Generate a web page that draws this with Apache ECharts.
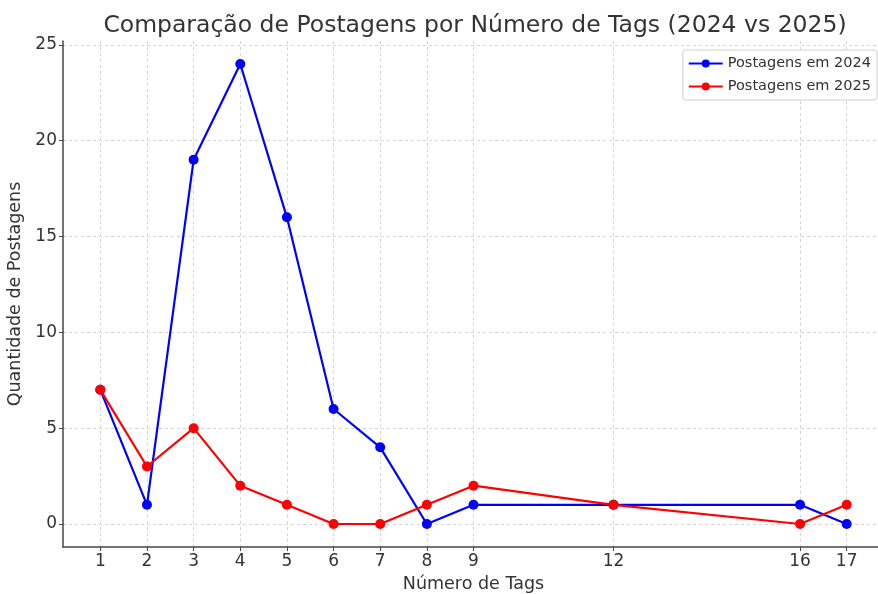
<!DOCTYPE html>
<html>
<head>
<meta charset="utf-8">
<script src="https://cdn.jsdelivr.net/npm/echarts@6/dist/echarts.min.js"></script>
<style>
  html, body { margin: 0; padding: 0; background: #fff; }
  #chart { width: 878px; height: 594px; }
</style>
</head>
<body>
<div id="chart"></div>
<script>
// --- Data ---
const tagCounts = [1, 2, 3, 4, 5, 6, 7, 8, 9, 12, 16, 17];
const posts2024 = [7, 1, 19, 24, 16, 6, 4, 0, 1, 1, 1, 0];
const posts2025 = [7, 3, 5, 2, 1, 0, 0, 1, 2, 1, 0, 1];
const yTicks = [0, 5, 10, 15, 20, 25];

const FONT = 'DejaVu Sans';
const axisColor = '#444';

const chart = echarts.init(document.getElementById('chart'), null, { renderer: 'canvas' });

function lineSeries(name, values, color) {
    return {
        name, type: 'line',
        data: tagCounts.map((x, i) => [x, values[i]]),
        symbol: 'circle', symbolSize: 10,
        lineStyle: { width: 2.2, color },
        itemStyle: { color },
        animation: false,
    };
}

chart.setOption({
    animation: false,
    title: {
        text: 'Comparação de Postagens por Número de Tags (2024 vs 2025)',
        left: 470, top: 9, textAlign: 'center',
        textStyle: { fontFamily: FONT, fontSize: 23.5, fontWeight: 'normal', color: '#333' },
    },
    legend: {
        right: 1, top: 50, orient: 'vertical',
        itemWidth: 34, itemHeight: 10, itemGap: 8,
        padding: [6, 6, 6, 5],
        backgroundColor: '#fff', borderColor: '#d0d0d0', borderWidth: 1, borderRadius: 3,
        textStyle: { fontFamily: FONT, fontSize: 14.5, color: '#333' },
        data: ['Postagens em 2024', 'Postagens em 2025'],
    },
    grid: { left: 63, right: -6, top: 41, bottom: 47, outerBoundsMode: 'none' },
    xAxis: {
        type: 'value', min: 0.2, max: 17.8,
        name: 'Número de Tags', nameLocation: 'middle', nameGap: 28,
        nameTextStyle: { fontFamily: FONT, fontSize: 17.5, color: '#333' },
        axisLine: { show: true, onZero: false, lineStyle: { color: axisColor, width: 1.5 } },
        axisTick: { show: true, customValues: tagCounts, length: 4, lineStyle: { color: axisColor } },
        axisLabel: { customValues: tagCounts, fontFamily: FONT, fontSize: 17, color: '#333', margin: 6 },
        splitLine: { show: true, lineStyle: { type: [3, 3], color: '#d5d5d5', width: 1 } },
    },
    yAxis: {
        type: 'value', min: -1.2, max: 25.2,
        name: 'Quantidade de Postagens', nameLocation: 'middle', nameGap: 33,
        nameTextStyle: { fontFamily: FONT, fontSize: 17.5, color: '#333' },
        axisLine: { show: true, lineStyle: { color: axisColor, width: 1.5 } },
        axisTick: { show: true, customValues: yTicks, length: 4, lineStyle: { color: axisColor } },
        axisLabel: { customValues: yTicks, fontFamily: FONT, fontSize: 17, color: '#333', margin: 6 },
        splitLine: { show: true, lineStyle: { type: [3, 3], color: '#d5d5d5', width: 1 } },
    },
    series: [
        lineSeries('Postagens em 2024', posts2024, '#0000ff'),
        lineSeries('Postagens em 2025', posts2025, '#ff0000'),
    ],
});
</script>
</body>
</html>
